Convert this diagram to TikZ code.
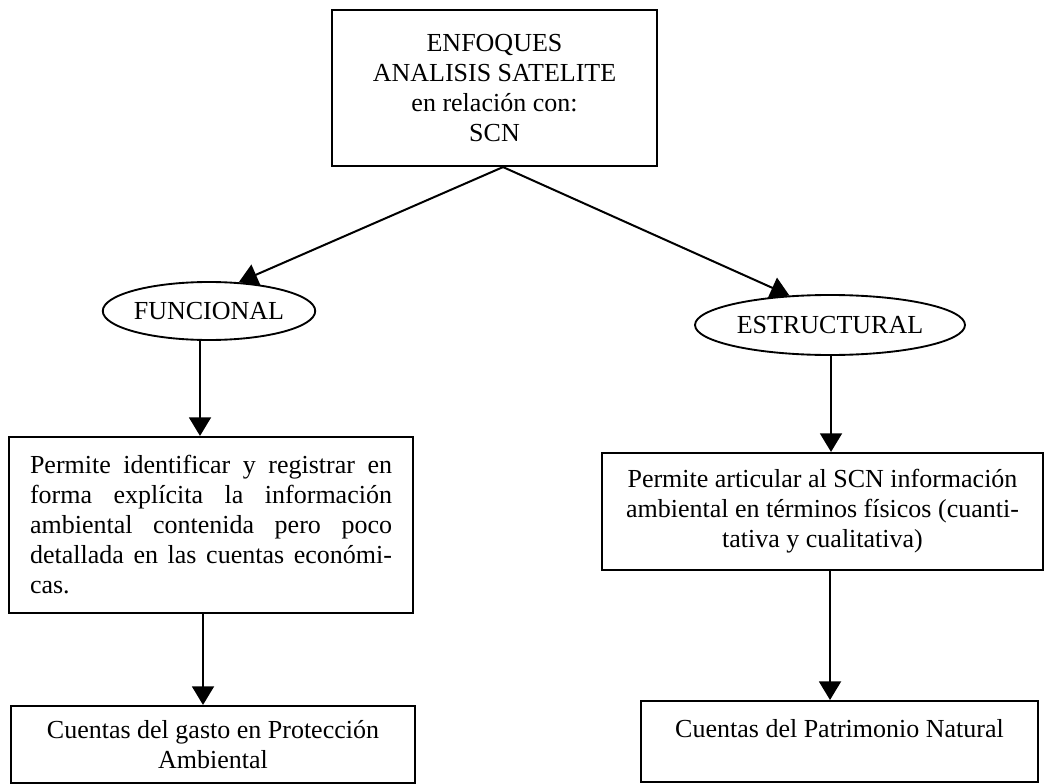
\documentclass[tikz,border=0pt]{standalone}
\usepackage{fontspec}
\setmainfont{Liberation Serif}
\usetikzlibrary{arrows.meta,shapes.geometric}
\newcommand{\jline}[1]{\makebox[271.5pt][s]{#1}}
\begin{document}
\begin{tikzpicture}[x=0.75pt,y=-0.75pt,
  txt/.style={font=\fontsize{19.5}{22.5}\selectfont},
  box/.style={txt, draw, line width=1.6pt, inner sep=0pt, align=center},
  oval/.style={txt, draw, ellipse, line width=1.4pt, inner sep=0pt},
  conn/.style={line width=1.5pt, -{Triangle[length=14pt,width=16.5pt]}},
]
\useasboundingbox (0,0) rectangle (1048,784);

\node[box, minimum width=243.75pt, minimum height=117pt] (top) at (494.5,88)
  {ENFOQUES\\ANALISIS SATELITE\\en relación con:\\SCN};

\node[oval, minimum width=159pt, minimum height=43.5pt] (fun) at (209,311) {FUNCIONAL};
\node[oval, minimum width=202.5pt, minimum height=45pt] (est) at (830,325) {ESTRUCTURAL};

\node[box, align=justify, minimum width=303pt, minimum height=132pt, text width=271.5pt] (lmid) at (211,525)
  {\jline{Permite identificar y registrar en}\\
   \jline{forma explícita la información}\\
   \jline{ambiental contenida pero poco}\\
   \jline{detallada en las cuentas económi-}\\
   cas.};

\node[box, minimum width=303pt, minimum height=57.75pt] (lbot) at (213,744.5)
  {Cuentas del gasto en Protección\\Ambiental};

\node[box, minimum width=330.75pt, minimum height=87.75pt] (rmid) at (822.5,511.5)
  {Permite articular al SCN información\\ambiental en términos físicos (cuanti-\\tativa y cualitativa)};

\node[box, anchor=north, minimum width=297.75pt, text height=27pt, text depth=33.75pt] (rbot) at (839.5,700)
  {Cuentas del Patrimonio Natural};

\coordinate (lx1) at (200,0);
\coordinate (lx2) at (203,0);
\coordinate (rx1) at (831,0);
\coordinate (rx2) at (830,0);

\draw[conn] ([xshift=6.4pt]top.south) -- (fun.44);
\draw[conn] ([xshift=6.4pt]top.south) -- (est.144);
\draw[conn] (fun.south -| lx1) -- (lmid.north -| lx1);
\draw[conn] (lmid.south -| lx2) -- (lbot.north -| lx2);
\draw[conn] (est.south -| rx1) -- (rmid.north -| rx1);
\draw[conn] (rmid.south -| rx2) -- (rbot.north -| rx2);
\end{tikzpicture}
\end{document}
